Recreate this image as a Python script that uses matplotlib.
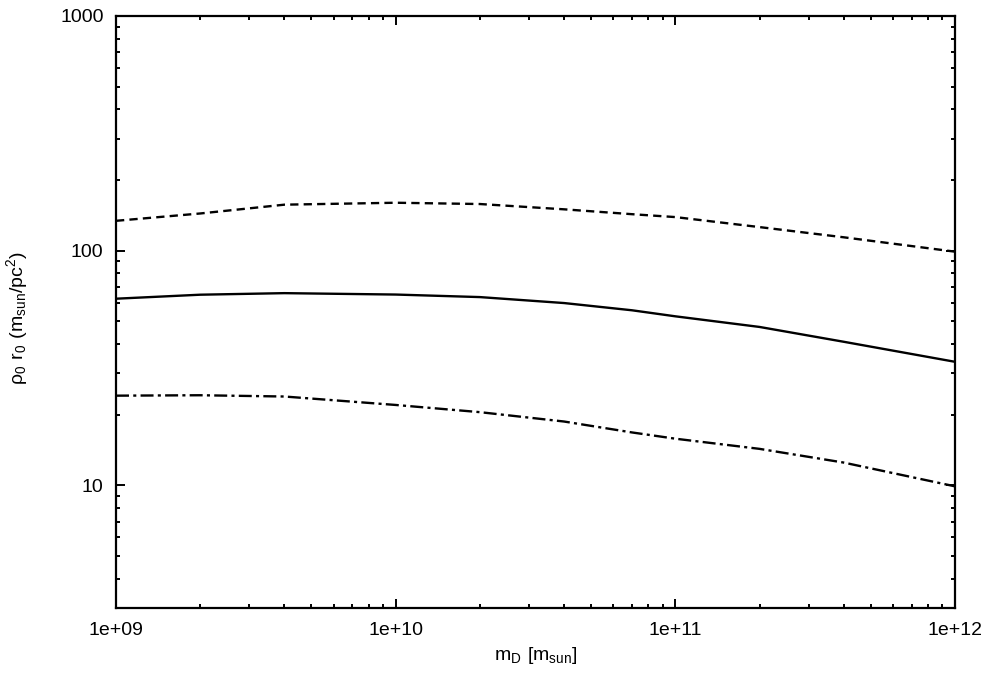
import numpy as np
import matplotlib.pyplot as plt
from matplotlib.ticker import LogLocator, FixedLocator, FixedFormatter, NullFormatter

plt.rcParams['font.family'] = ['Liberation Sans', 'DejaVu Sans']
plt.rcParams['mathtext.default'] = 'regular'

# halo mass m_D [m_sun]
m_d = [1e9, 2e9, 4e9, 1e10, 2e10, 4e10, 7e10, 1e11, 2e11, 4e11, 1e12]

# rho_0 * r_0 [m_sun / pc^2]
upper = [134, 144, 157, 160, 158, 150, 143, 139, 126, 114, 99]
middle = [62.4, 64.9, 65.9, 65.0, 63.4, 59.8, 55.7, 52.5, 47.3, 40.9, 33.6]
lower = [24.1, 24.2, 23.9, 22.0, 20.5, 18.7, 16.8, 15.8, 14.3, 12.5, 9.9]

x_ticks = [1e9, 1e10, 1e11, 1e12]
x_labels = ["1e+09", "1e+10", "1e+11", "1e+12"]
y_ticks = [10, 100, 1000]
y_labels = ["10", "100", "1000"]


def main():
    fig = plt.figure(figsize=(9.89, 6.74), dpi=100)
    ax = fig.add_axes([0.1173, 0.0979, 0.8483, 0.8784])

    ax.plot(m_d, upper, color="black", lw=1.7, dashes=(3.5, 2.2))
    ax.plot(m_d, middle, color="black", lw=1.7)
    ax.plot(m_d, lower, color="black", lw=1.7, dashes=(5.5, 1.8, 1.3, 1.8))

    ax.set_xscale("log")
    ax.set_yscale("log")
    ax.set_xlim(1e9, 1e12)
    ax.set_ylim(3, 1000)

    ax.xaxis.set_major_locator(FixedLocator(x_ticks))
    ax.xaxis.set_major_formatter(FixedFormatter(x_labels))
    ax.yaxis.set_major_locator(FixedLocator(y_ticks))
    ax.yaxis.set_major_formatter(FixedFormatter(y_labels))
    ax.xaxis.set_minor_locator(LogLocator(base=10, subs=np.arange(2, 10)))
    ax.yaxis.set_minor_locator(LogLocator(base=10, subs=np.arange(2, 10)))
    ax.xaxis.set_minor_formatter(NullFormatter())
    ax.yaxis.set_minor_formatter(NullFormatter())

    ax.tick_params(which="both", direction="in", top=True, right=True,
                   width=1.4, labelsize=14)
    ax.tick_params(axis="x", which="major", pad=10)
    ax.tick_params(axis="y", which="major", pad=9)
    ax.tick_params(which="major", length=6.5)
    ax.tick_params(which="minor", length=3)
    for s in ax.spines.values():
        s.set_linewidth(1.6)

    ax.set_xlabel(r"$m_D\ [m_{sun}]$", fontsize=14)
    ax.set_ylabel(r"$\rho_0\ r_0\ (m_{sun}/pc^2)$", fontsize=14)
    ax.xaxis.set_label_coords(0.5, -0.063)
    ax.yaxis.set_label_coords(-0.102, 0.49)

    fig.savefig("out.png", dpi=100)


if __name__ == "__main__":
    main()
